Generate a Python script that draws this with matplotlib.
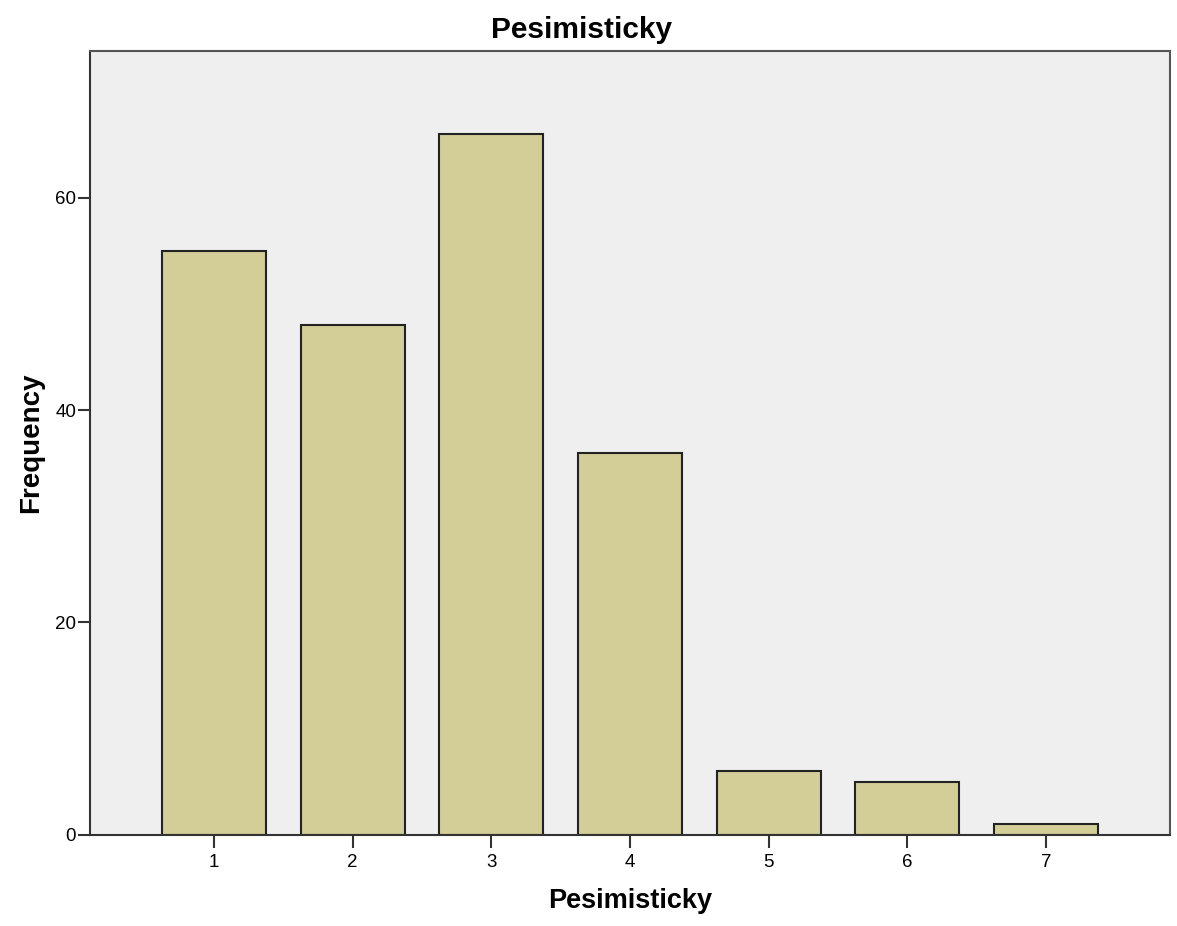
import matplotlib
matplotlib.use('Agg')
import matplotlib.pyplot as plt

plt.rcParams['font.family'] = ['Liberation Sans', 'DejaVu Sans']

categories = [1, 2, 3, 4, 5, 6, 7]
frequencies = [55, 48, 66, 36, 6, 5, 1]
yticks = [0, 20, 40, 60]

fig = plt.figure(figsize=(11.77, 9.26), dpi=100)
ax = fig.add_axes([0.0765, 0.0983, 0.9175, 0.8467])
ax.set_facecolor('#EFEFEF')
ax.bar(categories, frequencies, width=0.75, color='#D3CE97',
       edgecolor='#222222', linewidth=1.5, zorder=2)

ax.set_xlim(0.106, 7.894)
ax.set_ylim(0, 73.8)
ax.set_xticks(categories)
ax.set_yticks(yticks)
ax.tick_params(axis='both', labelsize=13.5, length=9, width=1.5, color='#333333')
ax.tick_params(axis='y', pad=1)
ax.tick_params(axis='x', pad=5)
for s in ax.spines.values():
    s.set_color('#555555')
    s.set_linewidth(1.5)
ax.spines['bottom'].set_color('#333333')
ax.spines['left'].set_color('#333333')

fig.text(0.4945, 0.968, 'Pesimisticky', fontsize=21.5, fontweight='bold',
         ha='center', va='center')
ax.set_xlabel('Pesimisticky', fontsize=19.5, fontweight='bold', labelpad=12)
ax.set_ylabel('Frequency', fontsize=20, fontweight='bold', labelpad=8)

fig.savefig('out.png', dpi=100)
